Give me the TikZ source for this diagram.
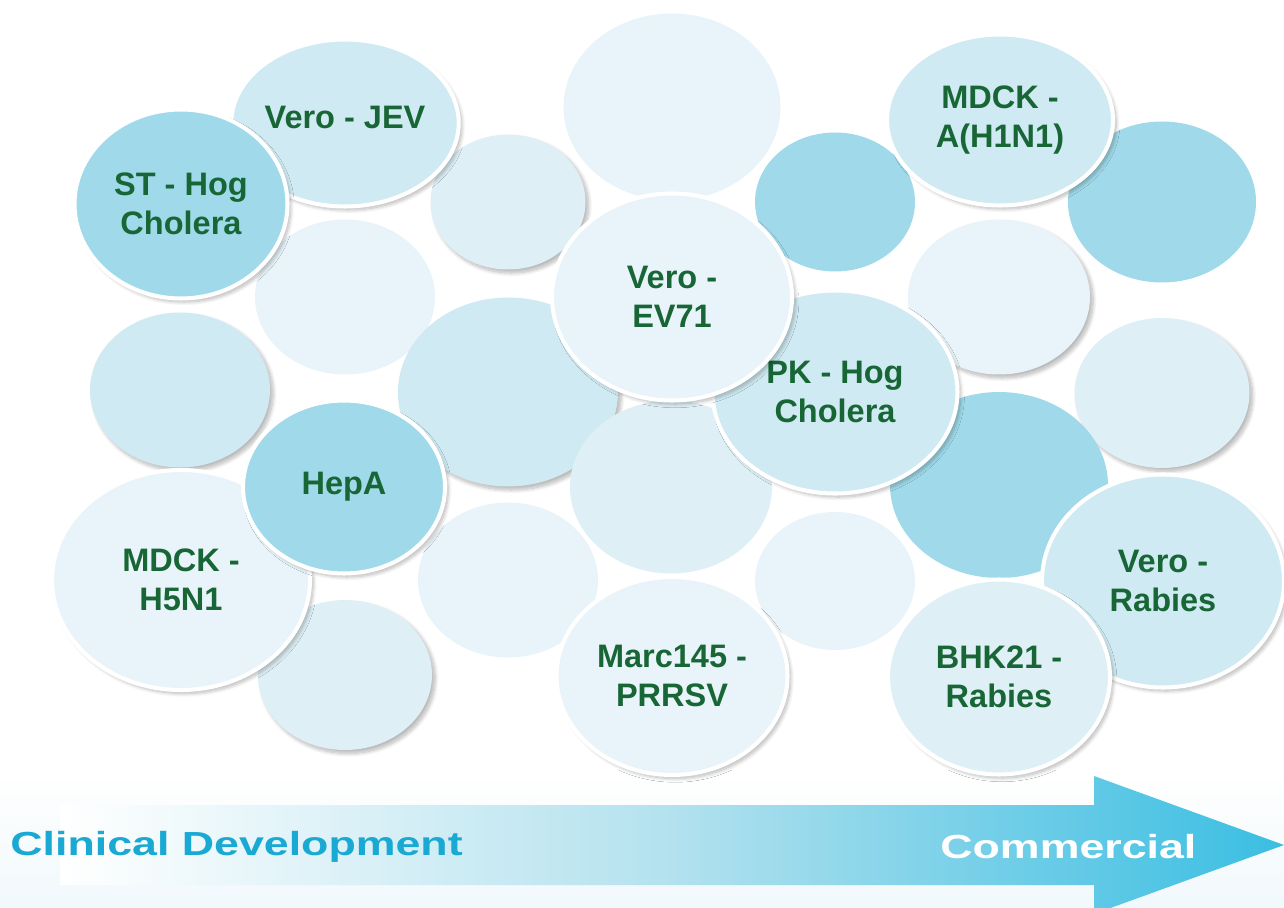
\documentclass[tikz,border=0pt]{standalone}
\usepackage{fontspec}
\setmainfont{Liberation Sans}
\usepackage{graphicx}
\usetikzlibrary{shapes.geometric,shadows.blur}

\definecolor{bubdeep}{RGB}{160,218,234}
\definecolor{bubmid}{RGB}{207,234,242}
\definecolor{bubsoft}{RGB}{222,240,246}
\definecolor{bubpale}{RGB}{232,244,249}
\definecolor{labelgreen}{RGB}{24,102,54}
\definecolor{phaseblue}{RGB}{26,169,211}
\definecolor{arrowblue}{RGB}{58,190,226}

\tikzset{wh/.style 2 args={minimum width=#1*0.02cm, minimum height=#2*0.02cm}}

\begin{document}
\begin{tikzpicture}[x=0.02cm,y=-0.02cm]
	\tikzstyle{bubble}=[ellipse, inner sep=0pt, draw=none]
	\tikzstyle{shady}=[blur shadow={shadow xshift=1.8pt, shadow yshift=-2pt, shadow blur steps=10, shadow opacity=28}]
	\tikzstyle{cell}=[bubble, shady, draw=white, line width=2.3pt, text=labelgreen, align=center, font=\fontsize{18.5}{22}\selectfont\bfseries]
	\tikzstyle{phase}=[inner sep=0pt, anchor=west, font=\fontsize{19}{22}\selectfont\bfseries]

	\useasboundingbox (0,0) rectangle (1284,908);
	\clip (0,0) rectangle (1284,908);
	\shade[top color=white, bottom color=bubpale!60] (0,770) rectangle (1284,908);

	% background bubbles
	\node[bubble, fill=bubpale, wh={217}{187}]         (b1)  at (672,107) {};
	\node[bubble, shady, fill=bubsoft, wh={155}{135}]  (b2)  at (508,202) {};
	\node[bubble, fill=bubpale, wh={180}{155}]         (b3)  at (345,297) {};
	\node[bubble, shady, fill=bubmid, wh={180}{155}]   (b4)  at (180,390) {};
	\node[bubble, shady, fill=bubmid, wh={220}{189}]   (b5)  at (508,392) {};
	\node[bubble, fill=bubsoft, wh={202}{173}]         (b6)  at (671,487) {};
	\node[bubble, fill=bubpale, wh={180}{155}]         (b7)  at (508,580) {};
	\node[bubble, shady, fill=bubsoft, wh={174}{150}]  (b8)  at (345,675) {};
	\node[bubble, fill=bubpale, wh={160}{138}]         (b9)  at (835,581) {};
	\node[bubble, fill=bubdeep, wh={160}{139}]         (b10) at (835,202) {};
	\node[bubble, shady, fill=bubpale, wh={182}{155}]  (b11) at (999,297) {};
	\node[bubble, fill=bubdeep, wh={188}{161}]         (b12) at (1162,202) {};
	\node[bubble, shady, fill=bubsoft, wh={175}{150}]  (b13) at (1162,393) {};
	\node[bubble, fill=bubdeep, wh={218}{186}]         (b14) at (999,485) {};

	% cell lines
	\node[cell, fill=bubmid, wh={225}{167}]  (jev)   at (345,123) {\raisebox{6pt}{Vero - JEV}};
	\node[cell, fill=bubdeep, wh={213}{189}] (sthog) at (181,204) {ST - Hog\\Cholera};
	\node[cell, fill=bubmid, wh={226}{171}]  (h1n1)  at (1000,120) {MDCK -\\A(H1N1)};
	\node[cell, fill=bubmid, wh={245}{203}]  (pkhog) at (835,392) {PK - Hog\\Cholera};
	\node[cell, fill=bubpale, wh={240}{207}] (ev71)  at (672,297) {Vero -\\EV71};
	\node[cell, fill=bubpale, wh={258}{220}] (h5n1)  at (181,580) {MDCK -\\H5N1};
	\node[cell, fill=bubdeep, wh={202}{173}] (hepa)  at (344,487) {HepA};
	\node[cell, fill=bubpale, wh={231}{198}] (prrsv) at (672,676) {Marc145 -\\PRRSV};
	\node[cell, fill=bubmid, wh={242}{213}]  (vrab)  at (1163,581) {Vero -\\Rabies};
	\node[cell, fill=bubsoft, wh={222}{195}] (bhk)   at (999,677) {BHK21 -\\Rabies};

	% pipeline arrow
	\shade[left color=white, right color=arrowblue, middle color=bubdeep!80]
		(60,805) -- (1094,805) -- (1094,776) -- (1284,845) -- (1094,914) -- (1094,885) -- (60,885) -- cycle;
	\node[phase, text=phaseblue] (clin) at (10,847) {\scalebox{1.34}[1]{Clinical Development}};
	\node[phase, text=white]     (comm) at (940,847) {\scalebox{1.34}[1]{Commercial}};

\end{tikzpicture}
\end{document}
